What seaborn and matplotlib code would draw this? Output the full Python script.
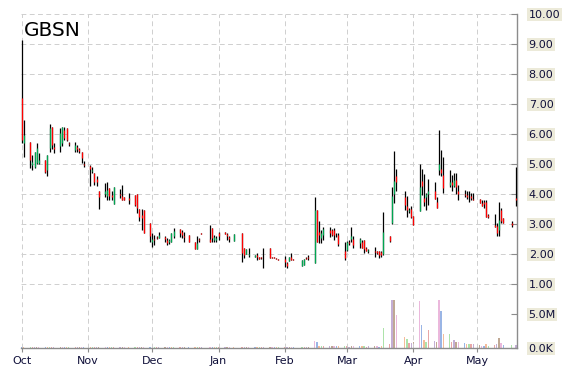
import numpy as np
import pandas as pd
import matplotlib
matplotlib.use("Agg")
import matplotlib.pyplot as plt
import matplotlib.dates as mdates
import seaborn as sns

nan = np.nan
ticker = "GBSN"
dates = pd.bdate_range("2015-10-01", "2016-05-19")

# one line per week (Mon..Fri)
opens = [
    7.20, 5.69,
    5.74, 4.95, 4.91, 5.02, 5.02,
    5.13, 4.80, 5.52, 6.22, 5.55,
    5.58, 5.69, 6.13, 6.19, 5.70,
    5.47, 5.55, 5.50, 5.41, 5.00,
    4.92, 4.75, 4.71, 4.50, 4.08,
    4.00, 3.93, 4.19, 3.95, 3.66,
    4.00, 3.94, 3.91, nan, 3.85,
    3.97, 4.00, 3.50, 3.30, 3.47,
    3.02, 2.40, 2.50, 2.55, 2.52,
    2.55, 2.45, 2.38, 2.41, 2.60,
    2.82, 2.74, 2.60, nan, 2.63,
    2.41, 2.17, 2.50, 2.69, nan,
    2.50, 2.86, 2.45, 2.45, 2.70,
    2.72, 2.65, 2.55, nan, 2.43,
    nan, 2.69, 2.19, 2.00, 1.95,
    1.90, 1.95, 1.89, 1.88, 1.90,
    2.19, 1.88, 1.88, 1.87, 1.83,
    1.82, 1.70, 1.77, 1.88, 1.83,
    nan, 1.58, 1.63, 1.86, 1.90,
    1.71, 3.47, 2.74, 2.52, 2.63,
    2.80, 2.80, 2.80, 2.60, 2.63,
    2.08, 2.13, 2.40, 2.50, 2.50,
    2.36, 2.41, 2.45, 2.20, 2.10,
    2.10, 2.08, 2.08, 2.05, 2.00,
    2.58, 3.04, 4.00, 4.60, nan,
    3.89, 3.60, 3.42, 3.49, 3.27,
    3.44, 4.44, 3.86, 3.90, 4.00,
    4.08, 3.74, 4.80, 4.82, 4.63,
    4.30, 4.40, 4.27, 4.47, 4.10,
    4.00, 3.97, 3.90, 3.92, 3.84,
    3.82, 3.71, 3.72, 3.74, 3.28,
    2.97, 2.93, 2.80, 3.47, 3.19,
    nan, 3.02, nan, 3.85,
]
highs = [
    9.13, 6.47,
    5.74, 5.30, 5.41, 5.69, 5.36,
    5.13, 5.30, 6.33, 6.22, 5.69,
    6.19, 6.24, 6.24, 6.19, 5.74,
    5.72, 5.63, 5.52, 5.41, 5.08,
    4.95, 4.91, 4.71, 4.58, 4.08,
    4.36, 4.38, 4.19, 4.08, 4.22,
    4.17, 4.30, 3.91, nan, 4.02,
    3.97, 4.00, 3.50, 3.50, 3.47,
    3.04, 2.69, 2.63, 2.60, 2.74,
    2.60, 2.52, 2.49, 2.69, 2.86,
    2.82, 2.80, 2.74, nan, 2.63,
    2.41, 2.58, 2.52, 2.70, nan,
    2.97, 2.86, 2.63, 2.58, 2.74,
    2.72, 2.69, 2.58, nan, 2.67,
    nan, 2.69, 2.19, 2.16, 2.19,
    1.97, 2.02, 1.89, 1.88, 2.19,
    2.19, 1.88, 1.88, 1.87, 1.83,
    1.93, 1.74, 1.89, 2.04, 1.83,
    nan, 1.80, 1.84, 1.88, 1.97,
    3.91, 3.47, 3.08, 2.80, 2.89,
    2.89, 2.82, 2.86, 2.70, 2.71,
    2.41, 2.44, 2.45, 2.88, 2.58,
    2.52, 2.45, 2.47, 2.22, 2.15,
    2.24, 2.10, 2.10, 2.10, 3.39,
    2.58, 4.24, 5.43, 4.82, nan,
    4.10, 3.93, 3.52, 3.58, 3.27,
    5.00, 4.82, 4.67, 4.02, 4.49,
    4.41, 3.89, 6.13, 5.47, 5.22,
    4.78, 4.63, 4.71, 4.69, 4.30,
    4.13, 4.08, 4.10, 4.02, 4.02,
    3.82, 3.80, 3.80, 3.80, 3.33,
    3.33, 3.02, 3.74, 3.54, 3.19,
    nan, 3.10, nan, 4.91,
]
lows = [
    5.70, 5.24,
    4.86, 4.80, 4.85, 5.00, 5.00,
    4.69, 4.61, 5.38, 5.49, 5.36,
    5.38, 5.60, 5.80, 5.75, 5.58,
    5.40, 5.38, 5.36, 5.02, 4.89,
    4.27, 4.69, 4.30, 4.27, 3.51,
    3.89, 3.80, 3.78, 3.80, 3.66,
    3.86, 3.80, 3.80, nan, 3.67,
    3.60, 3.36, 3.08, 2.80, 2.69,
    2.40, 2.24, 2.30, 2.50, 2.52,
    2.41, 2.30, 2.33, 2.41, 2.52,
    2.56, 2.52, 2.41, nan, 2.38,
    2.16, 2.17, 2.41, 2.66, nan,
    2.41, 2.38, 2.41, 2.41, 2.47,
    2.67, 2.47, 2.41, nan, 2.43,
    nan, 1.72, 1.86, 2.00, 1.89,
    1.90, 1.80, 1.84, 1.84, 1.54,
    1.86, 1.85, 1.85, 1.83, 1.80,
    1.56, 1.52, 1.77, 1.80, 1.78,
    nan, 1.58, 1.63, 1.84, 1.78,
    1.71, 2.41, 2.36, 2.36, 2.47,
    2.55, 2.58, 2.47, 2.55, 2.27,
    1.80, 2.10, 2.30, 2.41, 2.19,
    2.19, 2.19, 2.02, 2.10, 2.03,
    1.89, 2.00, 1.86, 1.90, 1.97,
    2.40, 3.00, 3.70, 4.10, nan,
    3.47, 3.24, 3.36, 3.20, 2.97,
    3.44, 3.97, 3.58, 3.47, 3.63,
    3.82, 3.52, 4.63, 4.58, 4.04,
    4.22, 4.08, 4.24, 4.00, 3.78,
    3.91, 3.82, 3.74, 3.80, 3.78,
    3.71, 3.58, 3.52, 3.24, 3.19,
    2.91, 2.58, 2.60, 3.02, 3.04,
    nan, 2.91, nan, 3.58,
]
closes = [
    5.80, 5.97,
    5.13, 5.05, 5.41, 5.52, 5.13,
    4.74, 5.30, 6.19, 5.63, 5.50,
    6.02, 6.24, 5.86, 5.80, 5.65,
    5.63, 5.50, 5.42, 5.19, 4.95,
    4.82, 4.80, 4.41, 4.40, 3.89,
    4.10, 4.13, 3.93, 3.90, 4.22,
    3.95, 3.80, 3.80, nan, 3.80,
    3.63, 3.52, 3.24, 3.20, 2.69,
    2.58, 2.50, 2.45, 2.52, 2.63,
    2.50, 2.35, 2.45, 2.69, 2.75,
    2.69, 2.63, 2.55, nan, 2.38,
    2.16, 2.36, 2.45, 2.67, nan,
    2.41, 2.52, 2.55, 2.52, 2.60,
    2.67, 2.60, 2.50, nan, 2.67,
    nan, 2.02, 1.97, 2.16, 2.00,
    1.97, 1.90, 1.84, 1.85, 1.90,
    1.86, 1.85, 1.85, 1.83, 1.80,
    1.74, 1.60, 1.89, 1.80, 1.78,
    nan, 1.80, 1.84, 1.84, 1.86,
    3.45, 2.41, 2.63, 2.69, 2.82,
    2.70, 2.63, 2.63, 2.58, 2.33,
    1.86, 2.41, 2.35, 2.60, 2.30,
    2.49, 2.19, 2.15, 2.10, 2.12,
    2.05, 2.02, 1.95, 1.95, 2.74,
    2.44, 3.93, 4.44, 4.40, nan,
    3.63, 3.47, 3.45, 3.24, 2.97,
    4.22, 4.27, 3.74, 4.00, 4.10,
    3.82, 3.52, 5.00, 4.69, 4.19,
    4.41, 4.30, 4.47, 4.24, 4.00,
    3.95, 3.89, 3.88, 3.85, 3.80,
    3.71, 3.60, 3.66, 3.24, 3.22,
    2.91, 2.70, 3.13, 3.08, 3.04,
    nan, 2.97, nan, 3.80,
]
# volume in millions of shares
volumes = [
    0.10, 0.08,
    0.10, 0.08, 0.06, 0.09, 0.07,
    0.08, 0.07, 0.10, 0.08, 0.06,
    0.09, 0.08, 0.07, 0.08, 0.06,
    0.08, 0.07, 0.06, 0.08, 0.07,
    0.09, 0.06, 0.08, 0.07, 0.10,
    0.08, 0.07, 0.08, 0.06, 0.09,
    0.07, 0.08, 0.06, nan, 0.07,
    0.08, 0.09, 0.07, 0.08, 0.10,
    0.09, 0.07, 0.08, 0.06, 0.07,
    0.08, 0.07, 0.06, 0.08, 0.09,
    0.08, 0.07, 0.08, nan, 0.07,
    0.09, 0.08, 0.06, 0.05, nan,
    0.09, 0.08, 0.07, 0.06, 0.07,
    0.06, 0.08, 0.07, nan, 0.08,
    nan, 0.10, 0.08, 0.07, 0.08,
    0.07, 0.08, 0.06, 0.06, 0.09,
    0.08, 0.06, 0.06, 0.06, 0.07,
    0.08, 0.09, 0.07, 0.08, 0.06,
    nan, 0.08, 0.07, 0.06, 0.08,
    0.90, 0.75, 0.20, 0.15, 0.20,
    0.20, 0.15, 0.15, 0.20, 0.15,
    0.15, 0.15, 0.12, 0.15, 0.15,
    0.20, 0.15, 0.15, 0.12, 0.15,
    0.15, 0.15, 0.12, 0.20, 2.90,
    0.45, 7.10, 7.10, 4.85, nan,
    1.50, 1.20, 0.60, 0.60, 0.80,
    6.90, 3.30, 1.05, 0.75, 2.60,
    0.90, 0.80, 7.10, 5.45, 2.00,
    2.00, 0.75, 1.05, 0.80, 0.80,
    0.60, 0.45, 0.45, 0.45, 0.45,
    0.40, 0.20, 0.20, 0.45, 0.20,
    0.30, 0.45, 1.35, 0.60, 0.35,
    nan, 0.30, nan, 0.30,
]
price_ticks = [1, 2, 3, 4, 5, 6, 7, 8, 9, 10]
volume_ticks = [0.0, 5.0]
volume_tick_labels = ["0.0K", "5.0M"]

df = pd.DataFrame({"date": dates, "open": opens, "high": highs, "low": lows,
                   "close": closes, "volume": volumes})

sns.set_theme(style="white")
plt.rcParams['font.family'] = ['DejaVu Sans']

UP, DOWN, WICK = "#00a651", "#ff0000", "#000000"
GRID = "#cfcfcf"
AXC = "#8c8c8c"
TXT = "#10103a"

fig = plt.figure(figsize=(5.7, 3.7), dpi=100)
ax = fig.add_axes([0.03695, 0.0608, 0.8698, 0.9019])
vax = ax.twinx()
ax.set_zorder(vax.get_zorder() + 1)
ax.patch.set_visible(False)

x = mdates.date2num(df["date"])
valid = df["high"].notna().to_numpy()

# volume bars
pal = sns.color_palette("muted", 7)
vvalid = df["volume"].notna().to_numpy()
vcols = [pal[i % len(pal)] for i in range(len(df))]
vax.bar(x[vvalid], df["volume"].to_numpy()[vvalid] * 1e6, width=0.6,
        color=[vcols[i] for i in np.where(vvalid)[0]], alpha=0.55, linewidth=0)

# candles: black high-low line, coloured open-close segment
ax.vlines(x[valid], df["low"][valid], df["high"][valid], colors=WICK, lw=0.9,
          zorder=3)
o = df["open"].to_numpy()[valid]
c = df["close"].to_numpy()[valid]
body_cols = [UP if cc > oo else DOWN for oo, cc in zip(o, c)]
ax.vlines(x[valid], np.minimum(o, c), np.maximum(o, c), colors=body_cols,
          lw=0.9, zorder=4)

# axes ranges
ymin = -1.123
ax.set_ylim(ymin, 10)
vmax = 5.0e6 * (10 - ymin) / (0 - ymin)
vax.set_ylim(0, vmax)
x0 = mdates.date2num(pd.Timestamp("2015-10-01")) - 0.3
x1 = mdates.date2num(pd.Timestamp("2016-05-19")) + 0.4
ax.set_xlim(x0, x1)

# price ticks on the right
ax.yaxis.tick_right()
ax.set_yticks(price_ticks)
ax.set_yticklabels([f"{v:.2f}" for v in price_ticks])
vax.set_yticks([v * 1e6 for v in volume_ticks])
vax.set_yticklabels(volume_tick_labels)
for a in (ax, vax):
    a.tick_params(axis="y", which="major", direction="in", length=4,
                  color=AXC, width=0.8, pad=8.5, labelsize=8,
                  labelcolor=TXT, right=True, left=False,
                  labelright=True, labelleft=False)
    for lab in a.get_yticklabels():
        lab.set_bbox(dict(boxstyle="square,pad=0.12", fc="#ecead9", ec="none"))

ax.xaxis.set_major_locator(mdates.MonthLocator())
ax.xaxis.set_major_formatter(mdates.DateFormatter("%b"))
ax.tick_params(axis="x", direction="out", length=3, color=AXC, width=0.8,
               pad=3, labelsize=8, labelcolor=TXT, bottom=True)

ax.grid(True, axis="both", linestyle=(0, (5, 3.5)), color=GRID, lw=0.7)
vax.grid(False)

for a in (ax, vax):
    for s in ("left", "top"):
        a.spines[s].set_visible(False)
vax.spines["bottom"].set_visible(False)
vax.spines["right"].set_visible(False)
ax.spines["right"].set_color(AXC)
ax.spines["bottom"].set_color(AXC)
ax.spines["right"].set_linewidth(1.0)
ax.spines["bottom"].set_linewidth(1.0)

fig.text(24 / 570, 1 - 36 / 370, ticker, fontsize=14.5, color="black",
         ha="left", va="baseline")

fig.savefig("out.png", dpi=100)
